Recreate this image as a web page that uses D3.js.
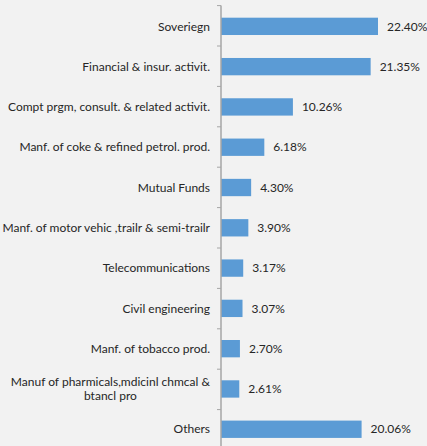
<!DOCTYPE html>
<html>
<head>
<meta charset="utf-8">
<script src="https://cdn.jsdelivr.net/npm/d3@7/dist/d3.min.js"></script>
<style>
  html, body { margin: 0; padding: 0; background: #f2f2f2; }
  svg { display: block; }
  text { font-family: Lato, "Noto Sans", sans-serif; fill: #262626; }
</style>
</head>
<body>
<svg id="chart" width="427" height="446"></svg>
<script>
// Sector allocation (% of portfolio)
const categories = [
  "Soveriegn",
  "Financial & insur. activit.",
  "Compt prgm, consult. & related activit.",
  "Manf. of coke & refined petrol. prod.",
  "Mutual Funds",
  "Manf. of motor vehic ,trailr & semi-trailr",
  "Telecommunications",
  "Civil engineering",
  "Manf. of tobacco prod.",
  "Manuf of pharmicals,mdicinl chmcal & btancl pro",
  "Others"
];
const values = [22.40, 21.35, 10.26, 6.18, 4.30, 3.90, 3.17, 3.07, 2.70, 2.61, 20.06];
const valueLabels = ["22.40%", "21.35%", "10.26%", "6.18%", "4.30%", "3.90%", "3.17%", "3.07%", "2.70%", "2.61%", "20.06%"];
// Long category names are broken onto two lines
const wrappedLines = {
  "Manuf of pharmicals,mdicinl chmcal & btancl pro": ["Manuf of pharmicals,mdicinl chmcal &", "btancl pro"]
};

const svg = d3.select("#chart");
const axisX = 221;
const plotTop = 5.6;
const step = 40.4;

const y = d3.scaleBand()
  .domain(categories)
  .range([plotTop, plotTop + step * categories.length])
  .paddingInner(0.57)
  .paddingOuter(0.3);

const x = d3.scaleLinear()
  .domain([0, 22.40])
  .range([axisX, axisX + 157]);

// Bars
svg.append("g")
  .selectAll("rect")
  .data(categories)
  .join("rect")
  .attr("x", axisX)
  .attr("y", d => y(d))
  .attr("width", (d, i) => x(values[i]) - axisX)
  .attr("height", y.bandwidth())
  .attr("fill", "#5b9bd5");

// Category axis with ticks at band boundaries
const axisG = svg.append("g");
axisG.append("line")
  .attr("x1", axisX).attr("x2", axisX)
  .attr("y1", plotTop).attr("y2", plotTop + step * categories.length)
  .attr("stroke", "#a6a6a6").attr("stroke-width", 1.5);
axisG.selectAll("line.tick")
  .data(d3.range(categories.length + 1))
  .join("line")
  .attr("class", "tick")
  .attr("x1", axisX - 4).attr("x2", axisX)
  .attr("y1", i => plotTop + i * step).attr("y2", i => plotTop + i * step)
  .attr("stroke", "#a6a6a6").attr("stroke-width", 1);

// Category labels
const labelG = svg.append("g");
categories.forEach(c => {
  const cy = y(c) + y.bandwidth() / 2;
  const lines = wrappedLines[c];
  if (lines) {
    const t = labelG.append("text")
      .attr("text-anchor", "middle")
      .attr("font-size", 12);
    const tmp = labelG.append("text").attr("font-size", 12).text(lines[0]);
    const w = tmp.node().getComputedTextLength();
    tmp.remove();
    const cx = axisX - 11 - w / 2;
    lines.forEach((ln, j) => {
      t.append("tspan")
        .attr("x", cx)
        .attr("y", cy + (j - (lines.length - 1) / 2) * 13.5)
        .attr("dy", "0.35em")
        .text(ln);
    });
  } else {
    labelG.append("text")
      .attr("x", axisX - 11)
      .attr("y", cy)
      .attr("dy", "0.35em")
      .attr("text-anchor", "end")
      .attr("font-size", 12)
      .text(c);
  }
});

// Value labels
svg.append("g")
  .selectAll("text")
  .data(categories)
  .join("text")
  .attr("x", (d, i) => x(values[i]) + 9)
  .attr("y", d => y(d) + y.bandwidth() / 2)
  .attr("dy", "0.35em")
  .attr("font-size", 12)
  .text((d, i) => valueLabels[i]);
</script>
</body>
</html>
